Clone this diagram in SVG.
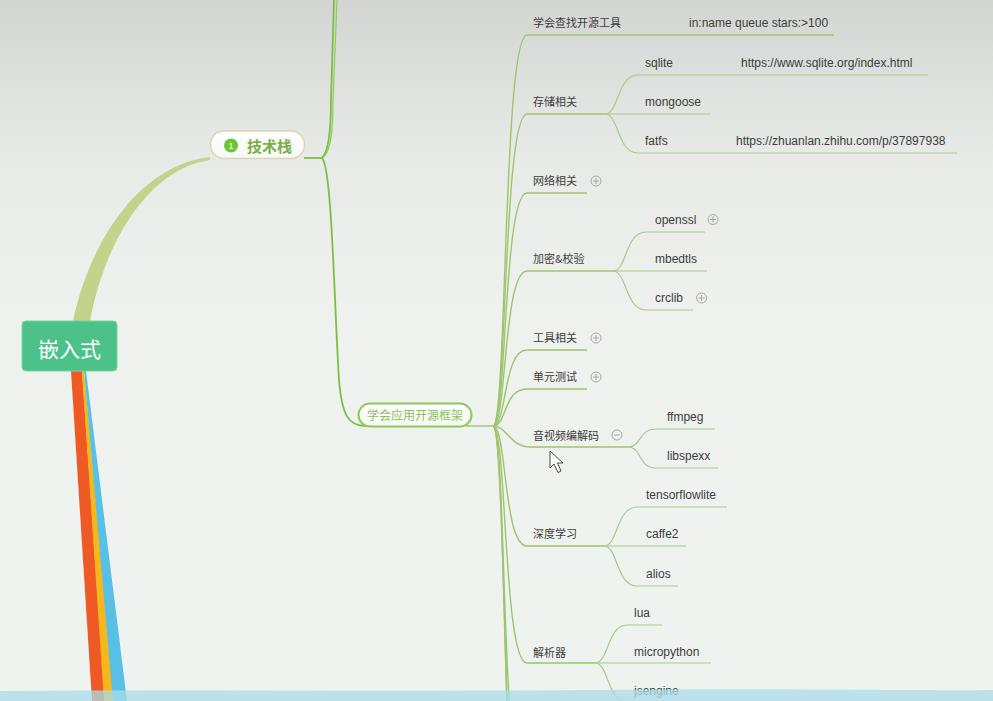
<svg xmlns="http://www.w3.org/2000/svg" width="993" height="701" viewBox="0 0 993 701">
<defs>
<linearGradient id="bg" x1="0" y1="0" x2="0" y2="1">
<stop offset="0" stop-color="#d3d5d2"/>
<stop offset="0.22" stop-color="#e7eae6"/>
<stop offset="0.45" stop-color="#eef1ed"/>
<stop offset="1" stop-color="#eff3ef"/>
</linearGradient>
<linearGradient id="pill" x1="0" y1="0" x2="0" y2="1">
<stop offset="0" stop-color="#ffffff"/>
<stop offset="1" stop-color="#f6f8f2"/>
</linearGradient>
<style>
.l2{fill:none;stroke:#9ec56e;stroke-width:1.4}
.l3{fill:none;stroke:#a9c98c;stroke-width:1.2}
.main{fill:none;stroke:#7cbf45;stroke-width:1.8}
.t{font-family:"Liberation Sans","Noto Sans CJK SC",sans-serif;font-size:12px;fill:#3d3d3d}
.c{font-family:"Noto Sans CJK SC","Liberation Sans",sans-serif;font-size:11px;fill:#3d3d3d}
.ic{fill:none;stroke:#a8a8a8;stroke-width:1}
</style>
</defs>
<rect x="0" y="0" width="993" height="701" fill="url(#bg)"/>

<g id="connectors">
<!-- olive branch root to 技术栈 -->
<path d="M73,321 C90,240 140,165 210,157 L210,160 C150,168 105,240 90,321 Z" fill="#c3d38b"/>
<!-- root downward branches -->
<polygon points="71,371 82,371 105,701 92,701" fill="#ef5a24"/>
<polygon points="82,371 84,371 114,701 104,701" fill="#f5b81c"/>
<polygon points="84,371 86,371 127,701 113,701" fill="#58bfe6"/>
<!-- 技术栈 right -->
<path class="main" d="M304,158 L322,158"/>
<path class="main" d="M322,158 C328,152 331,135 331,100 L334,0"/>
<path fill="none" stroke="#8fcc5a" stroke-width="1.2" d="M324,157 C330,150 333,135 333,100 L337,0"/>
<path class="main" stroke-width="1.5" d="M322,158 C332,168 334,300 339,380 C342,415 348,426 366,426"/>
<!-- hub -->
<path class="l2" d="M466,426 L493,426"/>
<path class="l2" d="M493,426 C507,426 503,35 527,35 L834,35"/>
<path class="l2" d="M493,426 C507,426 503,114 527,114 L605,114"/>
<path class="l2" d="M493,426 C507,426 503,193 527,193 L587,193"/>
<path class="l2" d="M493,426 C507,426 503,271 527,271 L613,271"/>
<path class="l2" d="M493,426 C507,426 503,350 527,350 L587,350"/>
<path class="l2" d="M493,426 C507,426 503,389 527,389 L587,389"/>
<path class="l2" d="M493,426 C507,426 510,447 530,447 L628,447"/>
<path class="l2" d="M493,426 C507,426 503,546 527,546 L604,546"/>
<path class="l2" d="M493,426 C507,426 503,663 527,663 L595,663"/>
<path class="l2" d="M493,426 C507,426 500,800 527,800"/>
<path class="l2" d="M493,426 C507,426 502,900 527,900"/>
<path class="l2" d="M493,426 C507,426 505,1000 527,1000"/>
<!-- storage -->
<path class="l3" d="M605,114 C619,114 617,75 638,75 L928,75"/>
<path class="l3" d="M605,114 L711,114"/>
<path class="l3" d="M605,114 C619,114 617,153 638,153 L957,153"/>
<!-- crypto -->
<path class="l3" d="M613,271 C627,271 625,232 646,232 L705,232"/>
<path class="l3" d="M613,271 L707,271"/>
<path class="l3" d="M613,271 C627,271 625,310 646,310 L693,310"/>
<!-- av -->
<path class="l3" d="M628,447 C642,447 638,429 656,429 L715,429"/>
<path class="l3" d="M628,447 C642,447 638,468 656,468 L718,468"/>
<!-- deep learning -->
<path class="l3" d="M604,546 C618,546 616,507 637,507 L727,507"/>
<path class="l3" d="M604,546 L686,546"/>
<path class="l3" d="M604,546 C618,546 616,586 637,586 L678,586"/>
<!-- parser -->
<path class="l3" d="M595,663 C609,663 607,625 627,625 L662,625"/>
<path class="l3" d="M595,663 L711,663"/>
<path class="l3" d="M595,663 C609,663 607,702 627,702 L720,702"/>
</g>

<g id="root">
<rect x="22" y="321" width="95" height="50" rx="4" fill="#4cc28a" stroke="#6ad89f" stroke-width="1"/>
<text x="69.5" y="357" text-anchor="middle" font-family="Noto Sans CJK SC,sans-serif" font-size="21" fill="#ffffff">嵌入式</text>
</g>

<g id="jishuzhan">
<rect x="210.5" y="131" width="94" height="27.5" rx="13.5" fill="url(#pill)" stroke="#dcd4b8" stroke-width="1.5"/>
<circle cx="231" cy="145.5" r="7" fill="#6cc43a"/>
<text x="231" y="149" text-anchor="middle" font-family="Liberation Sans,sans-serif" font-size="9" fill="#ffffff">1</text>
<text x="247" y="151.5" font-family="Noto Sans CJK SC,sans-serif" font-size="15" font-weight="bold" fill="#7aae48">技术栈</text>
</g>

<g id="kaiyuan">
<rect x="358.5" y="403.5" width="113" height="23" rx="11.5" fill="url(#pill)" stroke="#8ec85a" stroke-width="2"/>
<text x="367" y="420" font-family="Noto Sans CJK SC,sans-serif" font-size="12" fill="#8cc05a">学会应用开源框架</text>
</g>

<g id="n-find"><text class="c" x="533" y="27">学会查找开源工具</text><text class="t" x="689" y="27">in:name queue stars:&gt;100</text></g>
<g id="n-storage"><text class="c" x="533" y="106">存储相关</text></g>
<g id="n-sqlite"><text class="t" x="645" y="67">sqlite</text><text class="t" x="741" y="67">https://www.sqlite.org/index.html</text></g>
<g id="n-mongoose"><text class="t" x="645" y="106">mongoose</text></g>
<g id="n-fatfs"><text class="t" x="645" y="145">fatfs</text><text class="t" x="736" y="145">https://zhuanlan.zhihu.com/p/37897938</text></g>
<g id="n-net"><text class="c" x="533" y="185">网络相关</text><circle class="ic" cx="596" cy="181" r="5"/><path class="ic" d="M593,181 H599 M596,178 V184"/></g>
<g id="n-crypto"><text class="c" x="533" y="263">加密&amp;校验</text></g>
<g id="n-openssl"><text class="t" x="655" y="224">openssl</text><circle class="ic" cx="713" cy="219.5" r="5"/><path class="ic" d="M710,219.5 H716 M713,216.5 V222.5"/></g>
<g id="n-mbedtls"><text class="t" x="655" y="263">mbedtls</text></g>
<g id="n-crclib"><text class="t" x="655" y="302">crclib</text><circle class="ic" cx="701.5" cy="298" r="5"/><path class="ic" d="M698.5,298 H704.5 M701.5,295 V301"/></g>
<g id="n-tools"><text class="c" x="533" y="342">工具相关</text><circle class="ic" cx="596" cy="338" r="5"/><path class="ic" d="M593,338 H599 M596,335 V341"/></g>
<g id="n-test"><text class="c" x="533" y="381">单元测试</text><circle class="ic" cx="596" cy="377" r="5"/><path class="ic" d="M593,377 H599 M596,374 V380"/></g>
<g id="n-av"><text class="c" x="533" y="440">音视频编解码</text><circle class="ic" cx="617" cy="435" r="5"/><path class="ic" d="M614,435 H620"/></g>
<g id="n-ffmpeg"><text class="t" x="667" y="421">ffmpeg</text></g>
<g id="n-libspexx"><text class="t" x="667" y="460">libspexx</text></g>
<g id="n-dl"><text class="c" x="533" y="538">深度学习</text></g>
<g id="n-tflite"><text class="t" x="646" y="499">tensorflowlite</text></g>
<g id="n-caffe2"><text class="t" x="646" y="538">caffe2</text></g>
<g id="n-alios"><text class="t" x="646" y="578">alios</text></g>
<g id="n-parser"><text class="c" x="533" y="657">解析器</text></g>
<g id="n-lua"><text class="t" x="634" y="617">lua</text></g>
<g id="n-micropython"><text class="t" x="634" y="656">micropython</text></g>
<g id="n-jsengine"><text class="t" x="634" y="695">jsengine</text></g>

<path d="M0,691 C200,689 400,692 600,690 C800,688 900,691 993,690 L993,701 L0,701 Z" fill="#a9dcea" fill-opacity="0.75"/>

<polygon points="550,451 550,468 554,464 558,472.5 561,471 557.5,463 563,463" fill="#ffffff" stroke="#333333" stroke-width="0.9" stroke-linejoin="round"/>
</svg>
